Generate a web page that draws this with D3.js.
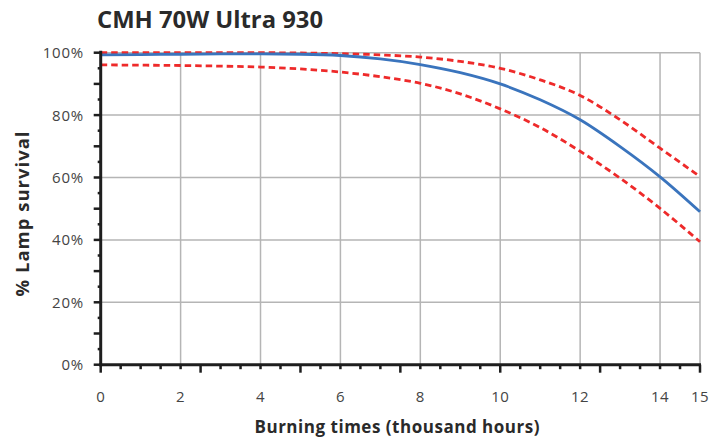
<!DOCTYPE html>
<html>
<head>
<meta charset="utf-8">
<script src="https://cdn.jsdelivr.net/npm/d3@7"></script>
<style>
  html, body { margin: 0; padding: 0; background: #fff; }
  svg { display: block; }
  text { font-family: "Open Sans", "Noto Sans", sans-serif; }
</style>
</head>
<body>
<svg id="chart" width="725" height="443"></svg>
<script>
// ---- data ----
const hours = [0, 1, 2, 3, 4, 5, 6, 7, 8, 9, 10, 11, 12, 13, 14, 15];
const survivalMean  = [99.3, 99.4, 99.5, 99.6, 99.6, 99.5, 99.1, 98.0, 96.2, 93.6, 90.0, 84.9, 78.5, 69.9, 60.2, 49.0];
const survivalUpper = [100, 100, 100, 100, 100, 99.9, 99.7, 99.3, 98.6, 97.2, 95.0, 91.3, 86.3, 78.5, 69.4, 60.3];
const survivalLower = [96.1, 96.0, 95.9, 95.7, 95.4, 94.8, 93.8, 92.3, 90.2, 86.8, 82.0, 76.0, 68.4, 59.8, 50.1, 39.4];
const xTickLabels = [0, 2, 4, 6, 8, 10, 12, 14, 15];
const yTickLabels = [0, 20, 40, 60, 80, 100];
const titleText = "CMH 70W Ultra 930";
const xTitle = "Burning times (thousand hours)";
const yTitle = "% Lamp survival";

(function () {
// ---- layout ----
const svg = d3.select("#chart");
const pLeft = 100.7, pRight = 700, pTop = 52.7, pBottom = 364.7;
const x = d3.scaleLinear().domain([0, 15]).range([pLeft, pRight]);
const y = d3.scaleLinear().domain([0, 100]).range([pBottom, pTop]);

const gridColor = "#b5b5b5";
const axisColor = "#1e1e1e";

// title
svg.append("text").attr("x", 97).attr("y", 28)
  .attr("font-size", 24).attr("font-weight", 700).attr("fill", "#2a2a2a")
  .attr("textLength", 226).attr("lengthAdjust", "spacingAndGlyphs")
  .text(titleText);

// grid
const grid = svg.append("g");
grid.selectAll("line.v").data(xTickLabels.filter(d => d > 0)).join("line")
  .attr("x1", d => x(d)).attr("x2", d => x(d))
  .attr("y1", y(0)).attr("y2", y(100))
  .attr("stroke", gridColor).attr("stroke-width", 1.5);
grid.selectAll("line.h").data(yTickLabels.filter(d => d > 0)).join("line")
  .attr("x1", x(0)).attr("x2", x(15))
  .attr("y1", d => y(d)).attr("y2", d => y(d))
  .attr("stroke", gridColor).attr("stroke-width", 1.5);

// lines
const rows = hours.map((h, i) => ({h, m: survivalMean[i], u: survivalUpper[i], l: survivalLower[i]}));
const mk = key => d3.line().x(d => x(d.h)).y(d => y(d[key])).curve(d3.curveMonotoneX);
svg.append("path").datum(rows).attr("d", mk("u"))
  .attr("fill", "none").attr("stroke", "#ee2a2a").attr("stroke-width", 2.8).attr("stroke-dasharray", "6.5,4");
svg.append("path").datum(rows).attr("d", mk("l"))
  .attr("fill", "none").attr("stroke", "#ee2a2a").attr("stroke-width", 2.8).attr("stroke-dasharray", "6.5,4");
svg.append("path").datum(rows).attr("d", mk("m"))
  .attr("fill", "none").attr("stroke", "#3a74bd").attr("stroke-width", 2.8);

// y axis
const yMinor = d3.range(0, 101, 5);
const yAxis = svg.append("g");
yAxis.append("line").attr("x1", pLeft).attr("x2", pLeft).attr("y1", y(0) + 1.5).attr("y2", pTop - 2)
  .attr("stroke", axisColor).attr("stroke-width", 3);
yAxis.selectAll("line.t").data(yMinor).join("line")
  .attr("x1", d => d % 10 === 0 ? pLeft - 7 : pLeft - 3).attr("x2", pLeft)
  .attr("y1", d => y(d)).attr("y2", d => y(d))
  .attr("stroke", axisColor).attr("stroke-width", 2.5);
yAxis.selectAll("text").data(yTickLabels).join("text")
  .attr("x", 84).attr("y", d => y(d)).attr("dy", "0.36em")
  .attr("text-anchor", "end").attr("font-size", 15).attr("fill", "#444")
  .attr("letter-spacing", 0.8)
  .text(d => d + "%");

// x axis
const xMinor = d3.range(0, 15.01, 0.5);
const xAxis = svg.append("g");
xAxis.append("line").attr("x1", pLeft - 1.5).attr("x2", pRight + 1).attr("y1", pBottom).attr("y2", pBottom)
  .attr("stroke", axisColor).attr("stroke-width", 3);
xAxis.selectAll("line.t").data(xMinor).join("line")
  .attr("x1", d => x(d)).attr("x2", d => x(d))
  .attr("y1", pBottom).attr("y2", d => (Math.abs(d / 2.5 - Math.round(d / 2.5)) < 1e-6) ? pBottom + 8 : pBottom + 4.5)
  .attr("stroke", axisColor).attr("stroke-width", 2.5);
xAxis.selectAll("text").data(xTickLabels).join("text")
  .attr("x", d => x(d)).attr("y", 402)
  .attr("text-anchor", "middle").attr("font-size", 15).attr("fill", "#444")
  .attr("letter-spacing", 0.5)
  .text(d => d);

// axis titles
svg.append("text").attr("x", 397).attr("y", 433)
  .attr("text-anchor", "middle").attr("font-size", 17).attr("font-weight", 700).attr("fill", "#2a2a2a")
  .attr("textLength", 285).attr("lengthAdjust", "spacing")
  .text(xTitle);
svg.append("text").attr("transform", "translate(29,214) rotate(-90)")
  .attr("text-anchor", "middle").attr("font-size", 18.5).attr("font-weight", 700).attr("fill", "#2a2a2a")
  .attr("textLength", 165).attr("lengthAdjust", "spacing")
  .text(yTitle);
})();
</script>
</body>
</html>
